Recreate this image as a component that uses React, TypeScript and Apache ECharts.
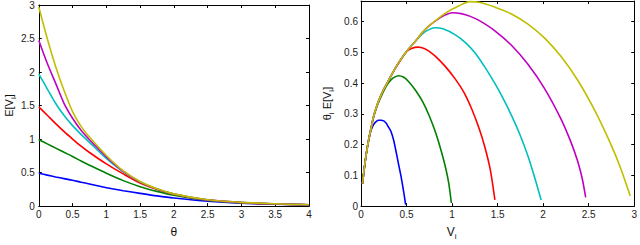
import React, { useEffect, useRef } from "react";
import * as echarts from "echarts";

// ---------- Left panel: E[V_i] as a function of theta ----------
const THETA = [0, 0.125, 0.25, 0.375, 0.5, 0.625, 0.75, 1, 1.25, 1.5, 1.75, 2, 2.5, 3, 3.5, 4];
const EV_05 = [0.49, 0.462, 0.435, 0.41, 0.385, 0.357, 0.33, 0.275, 0.23, 0.19, 0.152, 0.12, 0.072, 0.043, 0.028, 0.018];
const EV_10 = [0.99, 0.928, 0.865, 0.802, 0.74, 0.673, 0.61, 0.49, 0.38, 0.29, 0.22, 0.162, 0.085, 0.05, 0.031, 0.02];
const EV_15 = [1.48, 1.355, 1.23, 1.11, 1.0, 0.895, 0.8, 0.63, 0.48, 0.345, 0.25, 0.177, 0.09, 0.052, 0.032, 0.02];
const EV_20 = [1.97, 1.75, 1.53, 1.35, 1.2, 1.07, 0.95, 0.71, 0.51, 0.36, 0.255, 0.18, 0.092, 0.053, 0.033, 0.02];
const EV_25 = [2.47, 2.13, 1.83, 1.53, 1.31, 1.13, 0.99, 0.735, 0.52, 0.362, 0.256, 0.181, 0.093, 0.054, 0.034, 0.02];
const EV_30 = [2.97, 2.5, 2.08, 1.72, 1.41, 1.19, 1.03, 0.755, 0.525, 0.366, 0.258, 0.182, 0.094, 0.055, 0.035, 0.02];

// ---------- Right panel: theta_i E[V_i] against V_i ----------
const V_05 = [0.017, 0.035, 0.058, 0.085, 0.112, 0.14, 0.166, 0.195, 0.22, 0.25, 0.275, 0.3, 0.33, 0.358, 0.383, 0.41, 0.438, 0.465, 0.49];
const Y_05 = [0.073, 0.12, 0.17, 0.215, 0.248, 0.266, 0.275, 0.279, 0.279, 0.277, 0.27, 0.258, 0.242, 0.215, 0.18, 0.14, 0.099, 0.053, 0.005];
const V_10 = [0.017, 0.035, 0.058, 0.085, 0.112, 0.137, 0.17, 0.2, 0.25, 0.3, 0.35, 0.413, 0.47, 0.529, 0.6, 0.674, 0.75, 0.818, 0.88, 0.927, 0.962, 0.992];
const Y_10 = [0.073, 0.12, 0.17, 0.217, 0.255, 0.288, 0.32, 0.342, 0.375, 0.4, 0.416, 0.424, 0.419, 0.403, 0.376, 0.341, 0.293, 0.24, 0.18, 0.127, 0.077, 0.01];
const V_15 = [0.017, 0.035, 0.058, 0.085, 0.112, 0.137, 0.17, 0.2, 0.25, 0.3, 0.36, 0.42, 0.5, 0.56, 0.625, 0.7, 0.76, 0.818, 0.92, 1.036, 1.13, 1.217, 1.3, 1.362, 1.42, 1.47];
const Y_15 = [0.073, 0.12, 0.17, 0.217, 0.255, 0.29, 0.322, 0.347, 0.38, 0.407, 0.44, 0.468, 0.502, 0.513, 0.517, 0.512, 0.501, 0.487, 0.456, 0.413, 0.37, 0.315, 0.25, 0.19, 0.118, 0.02];
const V_20 = [0.017, 0.035, 0.058, 0.085, 0.112, 0.137, 0.17, 0.2, 0.25, 0.3, 0.36, 0.42, 0.52, 0.6, 0.674, 0.74, 0.81, 0.9, 1.036, 1.15, 1.253, 1.36, 1.47, 1.56, 1.652, 1.74, 1.833, 1.91, 1.978];
const Y_20 = [0.073, 0.12, 0.17, 0.217, 0.255, 0.29, 0.322, 0.347, 0.38, 0.407, 0.44, 0.47, 0.51, 0.537, 0.56, 0.573, 0.58, 0.577, 0.557, 0.531, 0.498, 0.452, 0.399, 0.35, 0.295, 0.236, 0.163, 0.09, 0.02];
const V_25 = [0.017, 0.035, 0.058, 0.085, 0.112, 0.137, 0.17, 0.2, 0.25, 0.3, 0.36, 0.42, 0.52, 0.6, 0.674, 0.75, 0.83, 0.9, 1.0, 1.1, 1.2, 1.3, 1.47, 1.652, 1.833, 2.014, 2.195, 2.3, 2.38, 2.43, 2.467];
const Y_25 = [0.073, 0.12, 0.17, 0.217, 0.255, 0.29, 0.322, 0.347, 0.38, 0.407, 0.44, 0.47, 0.51, 0.537, 0.565, 0.587, 0.605, 0.618, 0.629, 0.626, 0.617, 0.603, 0.57, 0.523, 0.461, 0.383, 0.284, 0.212, 0.145, 0.088, 0.028];
const V_30 = [0.017, 0.035, 0.058, 0.085, 0.112, 0.137, 0.17, 0.2, 0.25, 0.3, 0.36, 0.42, 0.52, 0.6, 0.674, 0.75, 0.83, 0.9, 0.963, 1.04, 1.108, 1.19, 1.3, 1.47, 1.652, 1.833, 2.014, 2.195, 2.376, 2.558, 2.739, 2.85, 2.956];
const Y_30 = [0.073, 0.12, 0.17, 0.217, 0.255, 0.29, 0.322, 0.347, 0.38, 0.407, 0.44, 0.47, 0.51, 0.537, 0.565, 0.587, 0.606, 0.622, 0.634, 0.646, 0.656, 0.665, 0.663, 0.647, 0.625, 0.592, 0.547, 0.487, 0.411, 0.316, 0.204, 0.124, 0.033];

const COLORS = ["#0000ff", "#008000", "#ff0000", "#00bfbf", "#bf00bf", "#bfbf00"];
const LEFT_CURVES = [EV_05, EV_10, EV_15, EV_20, EV_25, EV_30];
const RIGHT_CURVES: [number[], number[]][] = [
  [V_05, Y_05], [V_10, Y_10], [V_15, Y_15], [V_20, Y_20], [V_25, Y_25], [V_30, Y_30],
];

const FONT = "Liberation Sans, Arial, Helvetica, sans-serif";
const SUB = { fontSize: 8, lineHeight: 8, verticalAlign: "bottom" as const, fontFamily: FONT, color: "#111" };
const MAIN = { fontSize: 11, lineHeight: 16, fontFamily: FONT, color: "#111" };

function axis(extra: any) {
  return {
    type: "value",
    axisLine: { show: true, onZero: false, lineStyle: { color: "#000", width: 1 } },
    axisTick: { show: true, inside: true, length: 3, lineStyle: { color: "#000", width: 1 } },
    axisLabel: { show: true, fontSize: 10, color: "#222", fontFamily: FONT, margin: 3 },
    splitLine: { show: false },
    ...extra,
  };
}

function hidden(extra: any) {
  const a: any = axis(extra);
  a.axisLabel = { show: false };
  return a;
}

export default function App() {
  const ref = useRef<HTMLDivElement>(null);
  useEffect(() => {
    if (!ref.current) return;
    const chart = echarts.init(ref.current, undefined, { renderer: "svg" });
    const series: any[] = [];
    LEFT_CURVES.forEach((vals, i) => {
      series.push({
        type: "line",
        xAxisIndex: 0,
        yAxisIndex: 0,
        data: THETA.map((t, k) => [t, vals[k]]),
        showSymbol: false,
        smooth: 0.3,
        lineStyle: { color: COLORS[i], width: 1.6 },
        itemStyle: { color: COLORS[i] },
        z: 2 + i,
      });
    });
    RIGHT_CURVES.forEach(([xs, ys], i) => {
      series.push({
        type: "line",
        xAxisIndex: 2,
        yAxisIndex: 2,
        data: xs.map((x, k) => [x, ys[k]]),
        showSymbol: false,
        smooth: 0.3,
        lineStyle: { color: COLORS[i], width: 1.6 },
        itemStyle: { color: COLORS[i] },
        z: 2 + i,
      });
    });
    chart.setOption({
      animation: false,
      backgroundColor: "#fff",
      grid: [
        { left: 32, top: 4, width: 277, height: 217, containLabel: false },
        { left: 361, top: 1, width: 276, height: 218, containLabel: false },
      ],
      xAxis: [
        axis({
          gridIndex: 0, position: "bottom", min: 0, max: 4, interval: 0.5,
          name: "θ", nameLocation: "middle", nameGap: 11,
          nameTextStyle: { ...MAIN, fontSize: 12 },
        }),
        hidden({ gridIndex: 0, position: "top", min: 0, max: 4, interval: 0.5 }),
        axis({
          gridIndex: 1, position: "bottom", min: 0, max: 3, interval: 0.5,
          name: "V{sub|i}", nameLocation: "middle", nameGap: 9,
          nameTextStyle: { ...MAIN, fontSize: 12, padding: [0, 92, 0, 0], rich: { sub: SUB } },
        }),
        hidden({ gridIndex: 1, position: "top", min: 0, max: 3, interval: 0.5 }),
      ],
      yAxis: [
        axis({
          gridIndex: 0, position: "left", min: 0, max: 3, interval: 0.5,
          axisLabel: { show: true, fontSize: 10, color: "#222", fontFamily: FONT, margin: 4 },
          name: "E[V{sub|i}]", nameLocation: "middle", nameGap: 20, nameRotate: 90,
          nameTextStyle: { ...MAIN, rich: { sub: SUB } },
        }),
        hidden({ gridIndex: 0, position: "right", min: 0, max: 3, interval: 0.5 }),
        axis({
          gridIndex: 1, position: "left", min: 0, max: 0.667, interval: 0.1,
          axisLabel: { show: true, fontSize: 10, color: "#222", fontFamily: FONT, margin: 3, showMaxLabel: false },
          name: "θ{sub|i} E[V{sub|i}]", nameLocation: "middle", nameGap: 26, nameRotate: 90,
          nameTextStyle: { ...MAIN, rich: { sub: SUB } },
        }),
        hidden({ gridIndex: 1, position: "right", min: 0, max: 0.667, interval: 0.1 }),
      ],
      series,
    });
    return () => chart.dispose();
  }, []);
  return (
    <div
      ref={ref}
      style={{ position: "absolute", left: 0, top: 0, width: 640, height: 245, background: "#fff" }}
    />
  );
}
